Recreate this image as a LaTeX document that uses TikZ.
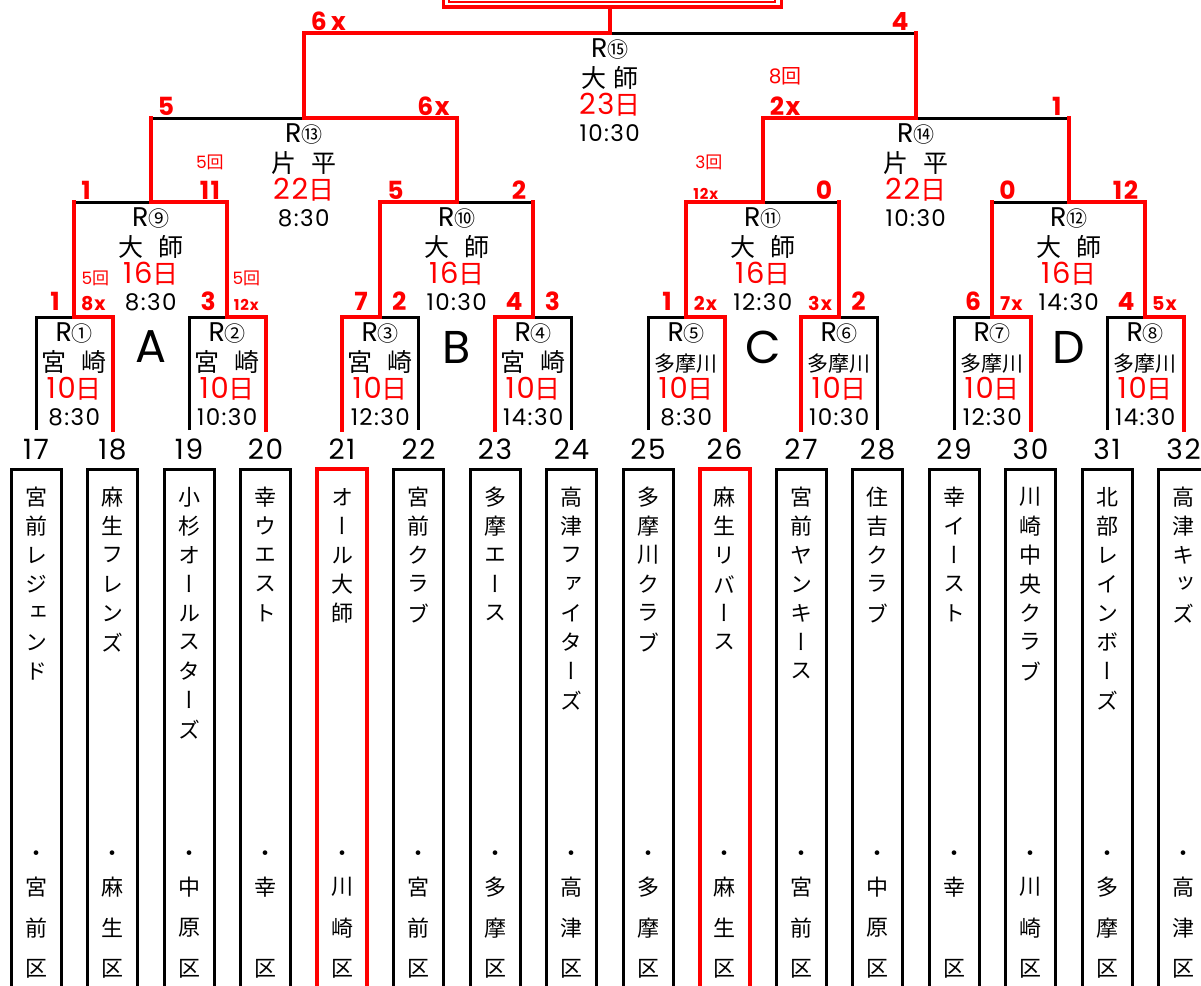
\documentclass[tikz,border=0pt]{standalone}
\usepackage{fontspec}
\setmainfont{Poppins}[LetterSpace=6]
\newfontfamily\jp{Noto Sans CJK JP}
\newfontfamily\jpv[RawFeature=+vert]{Noto Sans CJK JP}
\usetikzlibrary{calc}

% vertical stacks of characters
\ExplSyntaxOn
\cs_new_protected:Npn \tate_char:nn #1 #2
  { \hbox_to_wd:nn { 1.3em } { \hss \vbox_to_ht:nn {#1} { \vss \hbox:n {#2} \vss } \hss } }
\cs_new_protected:Npn \tate #1
  { \vbox:n { \offinterlineskip \exp_args:No \tl_map_inline:nn {#1} { \tate_char:nn { 29pt } {##1} } } }
\cs_new_protected:Npn \kutate #1
  { \vbox:n { \offinterlineskip \tate_char:nn { 21pt } { ・ } \exp_args:No \tl_map_inline:nn {#1} { \tate_char:nn { 41pt } {##1} } } }
\ExplSyntaxOff

\newcommand\jgap{\hspace{0.6em}}
\newcommand\smx[1]{{\fontsize{19}{19}\selectfont #1}}
\newcommand\tnx[1]{{\fontsize{15}{15}\selectfont #1}}
\newcommand\jday{{\jp\fontsize{26}{26}\selectfont 日}}

\tikzset{bline/.style = {line width = 3pt},
  rline/.style = {red, line width = 4pt, line cap = rect},
  seed/.style = {inner sep = 0, font = \fontsize{28}{28}\selectfont},
  teambox/.style = {draw, line width = 3pt, minimum width = 50pt, minimum height = 560pt, anchor = north, inner sep = 0, outer sep = 0},
  finalist/.style = {teambox, draw = red, line width = 4pt},
  teamname/.style = {anchor = north, inner sep = 0, font = \jpv\fontsize{22}{22}\selectfont},
  rno/.style = {anchor = base, inner sep = 0, font = \fontsize{27}{27}\selectfont},
  venue/.style = {anchor = base, inner sep = 0, font = \jp\fontsize{25}{25}\selectfont},
  day/.style = {anchor = base, inner sep = 0, text = red, font = \fontsize{29}{29}\selectfont},
  kickoff/.style = {anchor = base, inner sep = 0, font = \fontsize{23}{23}\selectfont},
  score/.style = {inner sep = 0, text = red, font = \bfseries\fontsize{25}{25}\selectfont},
  inning/.style = {anchor = base, inner sep = 0, text = red, font = \fontsize{17}{17}\selectfont},
  pool/.style = {inner sep = 0, font = \fontsize{46}{46}\selectfont}}

\begin{document}
\begin{tikzpicture}[x = 1pt, y = -1pt]
      \useasboundingbox (0, 0) rectangle (1201, 985);
      % team slots and match points
      \foreach \n [evaluate = \n as \x using 36 + 76.5*(\n - 17)] in {17,...,32}
        \coordinate (t\n) at (\x, 430);
      \foreach \k/\a/\b in {1/17/18, 2/19/20, 3/21/22, 4/23/24, 5/25/26, 6/27/28, 7/29/30, 8/31/32}
        \coordinate (m\k) at ($(t\a)!0.5!(t\b) + (0, -113)$);
      \foreach \k/\a/\b/\h in {9/1/2/115, 10/3/4/115, 11/5/6/115, 12/7/8/115, 13/9/10/84, 14/11/12/84, 15/13/14/85}
        \coordinate (m\k) at ($(m\a)!0.5!(m\b) + (0, -\h)$);

      \node [draw = red, line width = 3.5pt, minimum width = 338pt, minimum height = 40pt, inner sep = 0] (champ) at (612.5, -13) {};
      \node [draw = red, line width = 1.5pt, minimum width = 326pt, minimum height = 30pt, inner sep = 0] (champin) at (612, -13) {};

      \foreach \m/\a/\b in {m1/t17/t18, m2/t19/t20, m3/t21/t22, m4/t23/t24, m5/t25/t26, m6/t27/t28, m7/t29/t30, m8/t31/t32,
        m9/m1/m2, m10/m3/m4, m11/m5/m6, m12/m7/m8, m13/m9/m10, m14/m11/m12, m15/m13/m14}
        \draw [bline] (\a) |- (\m) -| (\b);

      % winners
      \draw [rline] (t18) |- (m1) -- (m1 |- m9);
      \draw [rline] (t20) |- (m2) |- (m9) -- (m9 |- m13);
      \draw [rline] (t21) |- (m3) |- (m10) |- (m13) |- (m15) -- (m15 |- champ.south);
      \draw [rline] (t23) |- (m4) -- (m4 |- m10);
      \draw [rline] (t26) |- (m5) |- (m11) |- (m14) -- (m14 |- m15);
      \draw [rline] (t27) |- (m6) -- (m6 |- m11);
      \draw [rline] (t30) |- (m7) -- (m7 |- m12);
      \draw [rline] (t32) |- (m8) |- (m12) -- (m12 |- m14);

      \foreach \n/\team/\ward/\st in {17/宮前レジェンド/宮前区/teambox, 18/麻生フレンズ/麻生区/teambox,
        19/小杉オールスターズ/中原区/teambox, 20/幸ウエスト/幸　区/teambox, 21/オール大師/川崎区/finalist,
        22/宮前クラブ/宮前区/teambox, 23/多摩エース/多摩区/teambox, 24/高津ファイターズ/高津区/teambox,
        25/多摩川クラブ/多摩区/teambox, 26/麻生リバース/麻生区/finalist, 27/宮前ヤンキース/宮前区/teambox,
        28/住吉クラブ/中原区/teambox, 29/幸イースト/幸　区/teambox, 30/川崎中央クラブ/川崎区/teambox,
        31/北部レインボーズ/多摩区/teambox, 32/高津キッズ/高津区/teambox} {
        \node [seed] (n\n) at ($(t\n) + (0, 19)$) {\n};
        \node [\st] (b\n) at ($(t\n) + (0, 39)$) {};
        \node [teamname] (name\n) at ($(b\n.north) + (0, 13.5)$) {\tate{\team}};
        \node [teamname] (ward\n) at ($(b\n.north) + (0, 376.5)$) {\kutate{\ward}};
      }

      \foreach \m/\rn/\vn/\dt/\ko in {m1/①/宮\jgap 崎/10/8:30, m2/②/宮\jgap 崎/10/10:30, m3/③/宮\jgap 崎/10/12:30,
        m4/④/宮\jgap 崎/10/14:30, m5/⑤/{\fontsize{21}{21}\selectfont 多摩川}/10/8:30,
        m6/⑥/{\fontsize{21}{21}\selectfont 多摩川}/10/10:30, m7/⑦/{\fontsize{21}{21}\selectfont 多摩川}/10/12:30,
        m8/⑧/{\fontsize{21}{21}\selectfont 多摩川}/10/14:30, m9/⑨/大\jgap 師/16/8:30, m10/⑩/大\jgap 師/16/10:30,
        m11/⑪/大\jgap 師/16/12:30, m12/⑫/大\jgap 師/16/14:30, m13/⑬/片\jgap 平/22/8:30, m14/⑭/片\jgap 平/22/10:30,
        m15/⑮/大\hspace{0.3em}師/23/10:30} {
        \node [rno] (\m-no) at ($(\m) + (0, 24.5)$) {R{\jp\fontsize{21}{21}\selectfont\rn}};
        \node [venue] (\m-at) at ($(\m) + (0, 54)$) {\vn};
        \node [day] (\m-day) at ($(\m) + (0, 81)$) {\dt\jday};
        \node [kickoff] (\m-ko) at ($(\m) + (0, 108)$) {\ko};
      }

      % scores
      \foreach \m/\a/\b/\ls/\rs in {m1/t17/t18/1/\smx{8x}, m2/t19/t20/3/\tnx{12x}, m3/t21/t22/7/2, m4/t23/t24/4/3,
        m5/t25/t26/1/\smx{2x}, m6/t27/t28/\smx{3x}/2, m7/t29/t30/6/\smx{7x}, m8/t31/t32/4/\smx{5x}} {
        \node [score, anchor = base] (\m-l) at ($(\a |- \m)!0.5!(\m) + (0, -7)$) {\ls};
        \node [score, anchor = base] (\m-r) at ($(\m)!0.5!(\b |- \m) + (0, -7)$) {\rs};
      }
      \foreach \m/\a/\b/\ls/\rs in {m9/m1/m2/1/11, m10/m3/m4/5/2, m11/m5/m6/\tnx{12x}/0, m12/m7/m8/0/12,
        m13/m9/m10/5/6x, m14/m11/m12/2x/1, m15/m13/m14/6\,x/4} {
        \node [score, anchor = base west] (\m-l) at ($(\a |- \m) + (7, -3)$) {\ls};
        \node [score, anchor = base east] (\m-r) at ($(\b |- \m) + (-7, -3)$) {\rs};
      }
      \node [inning] (inn1) at ($(m1-r.base) + (2, -25.5)$) {5{\jp 回}};
      \node [inning] (inn2) at ($(m2-r.base) + (0, -25.5)$) {5{\jp 回}};
      \node [inning] (inn9) at ($(m9-r.base) + (0, -30.5)$) {5{\jp 回}};
      \node [inning] (inn11) at ($(m11-l.base) + (3, -30.5)$) {3{\jp 回}};
      \node [inning, font = \fontsize{20}{20}\selectfont] (inn14) at ($(m14-l.base) + (0, -31.5)$) {8{\jp 回}};

      \foreach \m/\p in {m9/A, m10/B, m11/C, m12/D}
        \node [pool] (pool\p) at ($(\m) + (0, 145)$) {\p};
    \end{tikzpicture}
\end{document}
